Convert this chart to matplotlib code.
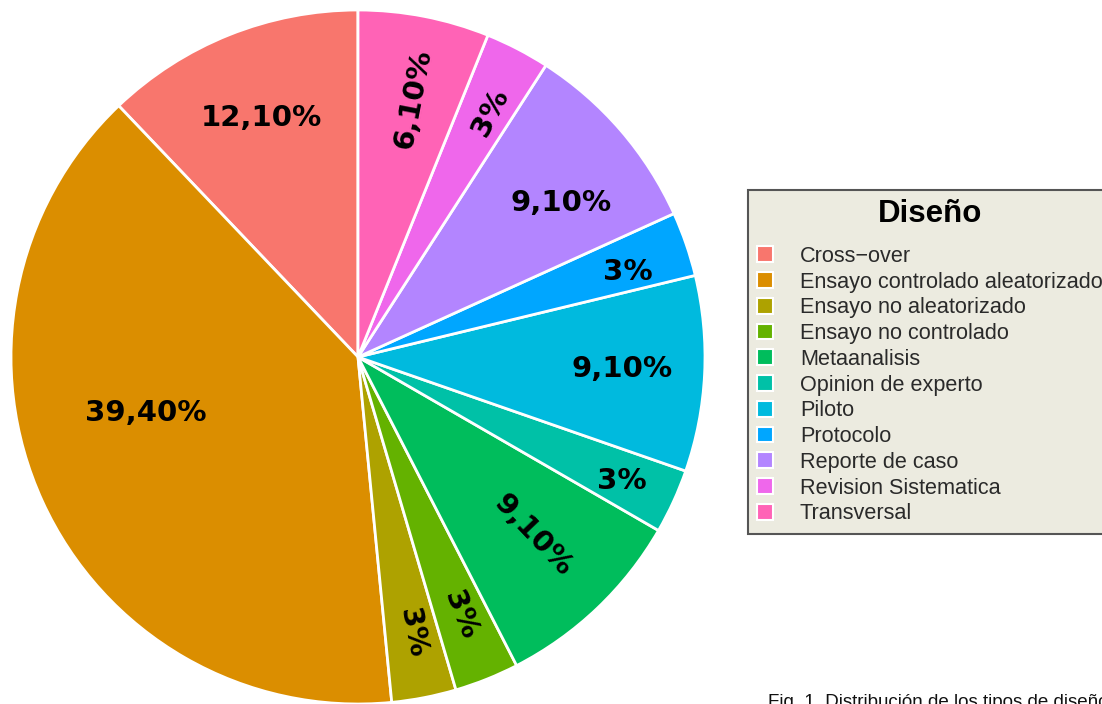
import matplotlib
matplotlib.use("Agg")
import matplotlib.pyplot as plt
from matplotlib.patches import Patch
import numpy as np

# ---- data ----
categories = ["Cross\u2212over", "Ensayo controlado aleatorizado", "Ensayo no aleatorizado",
              "Ensayo no controlado", "Metaanalisis", "Opinion de experto", "Piloto",
              "Protocolo", "Reporte de caso", "Revision Sistematica", "Transversal"]
percent = [12.1, 39.4, 3.0, 3.0, 9.1, 3.0, 9.1, 3.0, 9.1, 3.0, 6.1]
label_text = ["12,10%", "39,40%", "3%", "3%", "9,10%", "3%", "9,10%", "3%", "9,10%", "3%", "6,10%"]
colors = ["#F8766D", "#DB8E00", "#AEA200", "#64B200", "#00BD5C", "#00C1A7",
          "#00BADE", "#00A6FF", "#B385FF", "#EF67EB", "#FF63B6"]

# ---- label layout (styling) ----
label_radius = [0.743, 0.633, 0.81, 0.80, 0.72, 0.84, 0.763, 0.815, 0.734, 0.80, 0.76]
label_angle_shift = [0.1, -9.7, 0.2, -0.2, 0.9, -0.5, 0.3, -1.6, -3.6, -1.0, -1.0]
label_rotate = [False, False, True, True, True, False, False, False, False, True, True]

W, H = 1102, 704
fig = plt.figure(figsize=(W / 100, H / 100), dpi=100)
fig.patch.set_facecolor("white")

cx, cy, R = 358, 357, 347
ax = fig.add_axes([(cx - R) / W, (H - cy - R) / H, 2 * R / W, 2 * R / H])
wedges, _ = ax.pie(percent, colors=colors, startangle=90, counterclock=True,
                   radius=1.0, wedgeprops=dict(edgecolor="white", linewidth=2.0))
ax.set_xlim(-1, 1)
ax.set_ylim(-1, 1)
ax.axis("off")

for w, txt, r, dth, rot in zip(wedges, label_text, label_radius, label_angle_shift, label_rotate):
    mid = 0.5 * (w.theta1 + w.theta2)
    ang = mid + dth
    x = r * np.cos(np.radians(ang))
    y = r * np.sin(np.radians(ang))
    rot_deg = 0
    if rot:
        rot_deg = ((mid + 180) % 360) - 180
    ax.text(x, y, txt, ha="center", va="center", rotation=rot_deg,
            rotation_mode="anchor", fontsize=21, fontweight="bold",
            family="DejaVu Sans", color="black")

fs = 15.6
handles = [Patch(facecolor=c, edgecolor="white", linewidth=1.5) for c in colors]
leg = fig.legend(handles, categories, loc="upper left",
                 bbox_to_anchor=(748 / W, 1 - 190 / H), borderaxespad=0,
                 title="Dise\u00f1o", frameon=True, fancybox=False,
                 prop=dict(family="Liberation Sans", size=fs),
                 title_fontproperties=dict(family="Liberation Sans", size=22.5, weight="bold"),
                 handlelength=0.74, handleheight=0.74, handletextpad=1.24,
                 labelspacing=0.22, borderpad=0.42)
leg._legend_box.sep = 12
frame = leg.get_frame()
frame.set_facecolor("#ECEBE0")
frame.set_edgecolor("#555555")
frame.set_linewidth(1.5)
frame.set_alpha(1)
for t in leg.get_texts():
    t.set_color("#2a2a2a")

fig.text(768 / W, 1 - 707 / H, "Fig. 1. Distribuci\u00f3n de los tipos de dise\u00f1o",
         ha="left", va="baseline", fontsize=13.5, family="Liberation Sans", color="#111111")

fig.savefig("out.png", dpi=100)
